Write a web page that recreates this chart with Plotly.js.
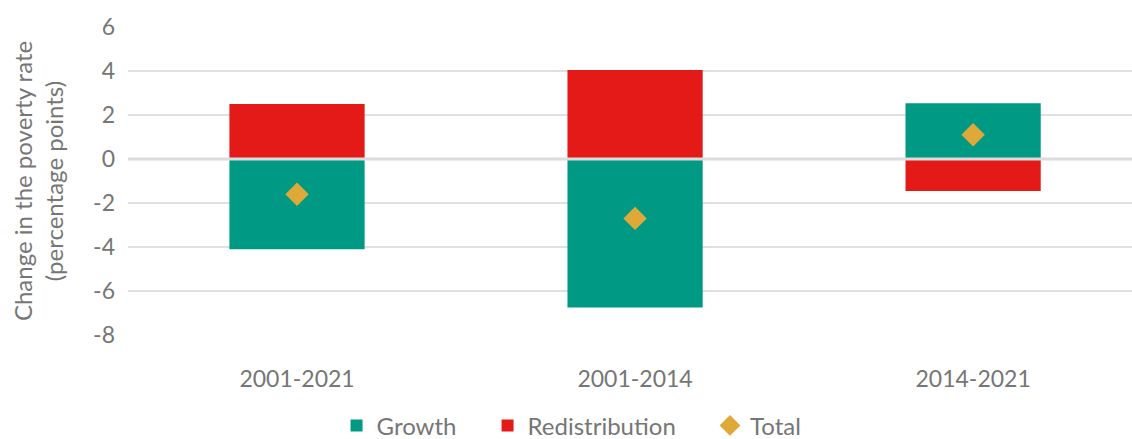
<!DOCTYPE html>
<html>
<head>
<meta charset="utf-8">
<script src="https://cdn.plot.ly/plotly-3.0.1.min.js"></script>
<style>html,body{margin:0;padding:0;background:#fff;}#chart{width:1132px;height:439px;}</style>
</head>
<body>
<div id="chart"></div>
<script>
const periods = ["2001-2021", "2001-2014", "2014-2021"];
const growth = [-4.1, -6.75, 2.53];
const redistribution = [2.5, 4.05, -1.45];
const total = [-1.6, -2.7, 1.1];
const yTicks = [-8, -6, -4, -2, 0, 2, 4, 6];

const fontFam = "Lato, 'Open Sans', sans-serif";
const txt = "#767676";

const traces = [
  {type: "bar", name: "Growth", x: periods, y: growth, width: 0.4, legend: "legend",
   marker: {color: "#009984", line: {width: 0}}, hoverinfo: "skip"},
  {type: "bar", name: "Redistribution", x: periods, y: redistribution, width: 0.4, legend: "legend2",
   marker: {color: "#E31A18", line: {width: 0}}, hoverinfo: "skip"},
  {type: "scatter", mode: "markers", name: "Total", x: periods, y: total, legend: "legend3",
   marker: {symbol: "diamond", size: 18, color: "#DFA93A"}, hoverinfo: "skip"}
];

function leg(x) {
  return {orientation: "h", xref: "container", x: x, xanchor: "left",
          yref: "container", y: 0.03, yanchor: "middle",
          font: {family: fontFam, size: 24, color: txt},
          itemwidth: 30, bgcolor: "rgba(0,0,0,0)"};
}

const layout = {
  width: 1132, height: 439,
  margin: {l: 128, r: 0, t: 27, b: 104},
  paper_bgcolor: "#fff", plot_bgcolor: "#fff",
  barmode: "relative",
  showlegend: true,
  font: {family: fontFam, color: txt, size: 23},
  xaxis: {
    type: "category", range: [-0.5, 2.47],
    showgrid: false, zeroline: false, showline: false, ticks: "",
    ticklabelstandoff: 28,
    tickfont: {family: fontFam, size: 23, color: txt}
  },
  yaxis: {
    range: [-8, 6], tickvals: yTicks, ticktext: yTicks.map(String),
    showgrid: true, gridcolor: "#e0e0e0", gridwidth: 2,
    zeroline: false, showline: false, ticks: "",
    ticklabelstandoff: 12,
    tickfont: {family: fontFam, size: 23, color: txt},
    title: {text: "Change in the poverty rate<br>(percentage points)", standoff: 22,
            font: {family: fontFam, size: 24, color: txt}}
  },
  shapes: [{type: "line", xref: "paper", x0: 0, x1: 1, yref: "y", y0: 0, y1: 0,
            layer: "above", line: {color: "#dcdcdc", width: 3}}],
  legend: leg(0.2973),
  legend2: leg(0.4307),
  legend3: leg(0.6272)
};

Plotly.newPlot("chart", traces, layout, {staticPlot: true, displayModeBar: false});
</script>
</body>
</html>
